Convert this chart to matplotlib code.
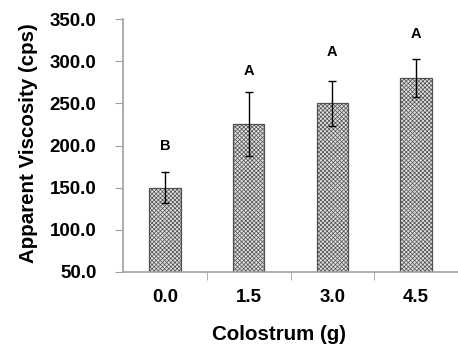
import matplotlib
matplotlib.use("Agg")
import matplotlib.pyplot as plt

categories = ["0.0", "1.5", "3.0", "4.5"]
means = [150, 225, 250, 280]
errors = [18, 38, 27, 23]
letters = ["B", "A", "A", "A"]
letter_y = [200, 288, 311, 332]
yticks = [50, 100, 150, 200, 250, 300, 350]

plt.rcParams['font.family'] = ['Liberation Sans', 'DejaVu Sans']
plt.rcParams['hatch.color'] = '#7a7a7a'
plt.rcParams['hatch.linewidth'] = 0.5

fig = plt.figure(figsize=(4.58, 3.52), dpi=100)
ax = fig.add_axes([123/458, 80/352, 335/458, 253/352])

x = list(range(len(categories)))
ax.bar(x, [m - 50 for m in means], bottom=50, width=0.375, color='#e0e0e0',
       edgecolor='#505050', linewidth=0.9, hatch='xxxxxxxx', zorder=2)
ax.errorbar(x, means, yerr=errors, fmt='none', ecolor='black', elinewidth=1,
            capsize=3, capthick=1, zorder=3)
for xi, l, ly in zip(x, letters, letter_y):
    ax.text(xi, ly, l, ha='center', va='center', fontsize=10.5, fontweight='bold')

ax.set_ylim(50, 350)
ax.set_xlim(-0.5, -0.5 + 335/85.3)
ax.set_yticks(yticks)
ax.set_yticklabels([f"{v:.1f}" for v in yticks], fontsize=13.5, fontweight='bold')
ax.set_xticks(x)
ax.set_xticklabels(categories, fontsize=13.5, fontweight='bold')
ax.set_xticks([0.5, 1.5, 2.5, 3.5], minor=True)
ax.tick_params(axis='x', which='major', length=0, pad=12)
ax.tick_params(axis='x', which='minor', length=6, color='#a0a0a0', direction='out')
ax.tick_params(axis='y', length=6, color='#a0a0a0', direction='out', pad=13)

for s in ['top', 'right']:
    ax.spines[s].set_visible(False)
for s in ['left', 'bottom']:
    ax.spines[s].set_color('#a0a0a0')
    ax.spines[s].set_linewidth(1.2)

ax.set_ylabel("Apparent Viscosity (cps)", fontsize=14.8, fontweight='bold')
ax.set_xlabel("Colostrum (g)", fontsize=14.8, fontweight='bold')
ax.yaxis.set_label_coords(-85/335, 0.51)
ax.xaxis.set_label_coords(0.466, -53/253)

fig.savefig("out.png", dpi=100)
